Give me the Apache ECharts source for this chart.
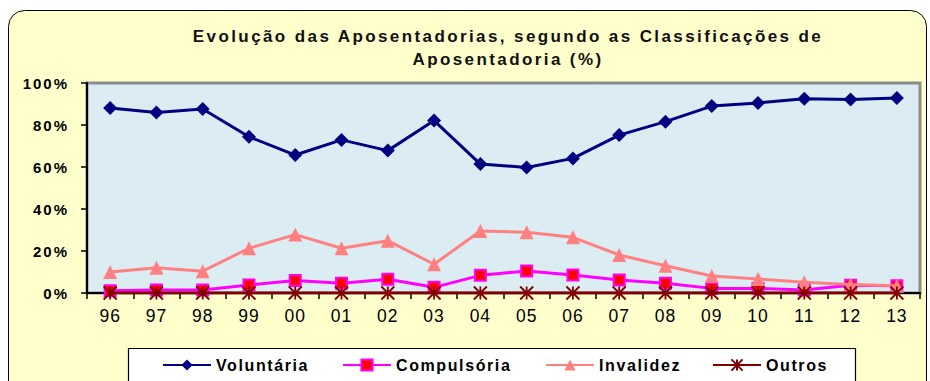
<!DOCTYPE html>
<html>
<head>
<meta charset="utf-8">
<script src="https://cdn.jsdelivr.net/npm/echarts@6/dist/echarts.min.js"></script>
<style>
  html, body { margin: 0; padding: 0; background: #ffffff; }
  #chart { width: 930px; height: 381px; }
  /* wide tracking, per text size */
  #chart text[style*="17px"] { letter-spacing: 2.4px; }
  #chart text[style*="17.5px"] { letter-spacing: 1px; }
  #chart text[style*="16px"] { letter-spacing: 1.6px; }
  #chart text[style*="15px"] { letter-spacing: 2px; }
</style>
</head>
<body>
<div id="chart"></div>
<script>
// Years (two-digit labels)
const years = ['96','97','98','99','00','01','02','03','04','05','06','07','08','09','10','11','12','13'];

// Share of retirements by type (%)
const voluntaria  = [88.1, 85.9, 87.6, 74.4, 65.7, 72.9, 67.8, 82.1, 61.4, 59.8, 64.1, 75.2, 81.6, 89.0, 90.5, 92.5, 92.2, 92.9];
const compulsoria = [1.1, 1.4, 1.4, 3.8, 5.9, 4.6, 6.5, 2.7, 8.4, 10.5, 8.6, 6.2, 4.6, 2.2, 2.2, 1.4, 3.7, 3.5];
const invalidez   = [10.0, 12.0, 10.4, 21.3, 27.8, 21.3, 24.9, 13.7, 29.5, 28.9, 26.5, 18.1, 13.0, 8.1, 6.7, 5.1, 4.1, 3.5];
const outros      = [0, 0, 0, 0, 0, 0, 0, 0, 0, 0, 0, 0, 0, 0, 0, 0, 0, 0];

// Y axis ticks (%)
const yTicks = [0, 20, 40, 60, 80, 100];

const seriesNames = ['Voluntária', 'Compulsória', 'Invalidez', 'Outros'];

const FONT = 'Liberation Sans, Arial, sans-serif';
const chart = echarts.init(document.getElementById('chart'), null, { renderer: 'svg' });

const legendLeft = [162, 342, 545, 712];
const legends = seriesNames.map((n, i) => ({
  data: [n],
  left: legendLeft[i],
  top: 357,
  padding: 0,
  itemWidth: 48,
  itemHeight: 14,
  itemGap: 0,
  selectedMode: false,
  textStyle: { fontFamily: FONT, fontWeight: 'bold', fontSize: 16, color: '#000' }
}));

const option = {
  animation: false,
  backgroundColor: '#ffffff',
  graphic: [
    {
      type: 'rect', z: -10, silent: true,
      shape: { x: 8.5, y: 10.5, width: 918, height: 420, r: 16 },
      style: { fill: '#FFFFCC', stroke: '#000', lineWidth: 1 }
    },
    {
      type: 'rect', z: -5, silent: true,
      shape: { x: 128.5, y: 348.5, width: 727, height: 60 },
      style: { fill: '#ffffff', stroke: '#000', lineWidth: 1.2 }
    },
    {
      type: 'text', z: 10, silent: true,
      x: 508, y: 48,
      style: {
        text: 'Evolução das Aposentadorias, segundo as Classificações de\nAposentadoria (%)',
        align: 'center', verticalAlign: 'middle',
        fontFamily: FONT, fontWeight: 'bold', fontSize: 17,
        lineHeight: 23,
        fill: '#111'
      }
    }
  ],
  legend: legends,
  grid: {
    left: 87, right: 10, top: 83, bottom: 88,
    show: true,
    backgroundColor: '#DBEDF3',
    borderColor: '#8C8C8C',
    borderWidth: 3
  },
  xAxis: {
    type: 'category',
    data: years,
    boundaryGap: true,
    axisLine: { show: true, lineStyle: { color: '#000', width: 2 } },
    axisTick: { show: true, length: 6, lineStyle: { color: '#000', width: 1.5 } },
    axisLabel: { margin: 14, fontFamily: FONT, fontSize: 17.5, color: '#000' },
    splitLine: { show: false }
  },
  yAxis: {
    type: 'value',
    min: yTicks[0], max: yTicks[yTicks.length - 1], interval: 20,
    axisLine: { show: true, lineStyle: { color: '#000', width: 2 } },
    axisTick: { show: true, length: 6, lineStyle: { color: '#000', width: 1.5 } },
    axisLabel: { margin: 18, fontFamily: FONT, fontSize: 15, fontWeight: 'bold', color: '#000', formatter: '{value}%' },
    splitLine: { show: false }
  },
  series: [
    {
      name: seriesNames[0], type: 'line', data: voluntaria,
      symbol: 'diamond', symbolSize: 14,
      lineStyle: { color: '#000080', width: 3 },
      itemStyle: { color: '#000080' },
      z: 2
    },
    {
      name: seriesNames[1], type: 'line', data: compulsoria,
      symbol: 'rect', symbolSize: 11,
      lineStyle: { color: '#FF00FF', width: 3 },
      itemStyle: { color: '#FF0000', borderColor: '#FF00FF', borderWidth: 2 },
      z: 3
    },
    {
      name: seriesNames[2], type: 'line', data: invalidez,
      symbol: 'triangle', symbolSize: 14,
      lineStyle: { color: '#FF8080', width: 3 },
      itemStyle: { color: '#FF8080' },
      z: 4
    },
    {
      name: seriesNames[3], type: 'line', data: outros,
      symbol: 'path://M0,0L10,10M10,0L0,10M5,0L5,10', symbolSize: 13,
      lineStyle: { color: '#800000', width: 3 },
      itemStyle: { color: '#800000', borderColor: '#800000', borderWidth: 1.8 },
      z: 5
    }
  ]
};

chart.setOption(option);
</script>
</body>
</html>
